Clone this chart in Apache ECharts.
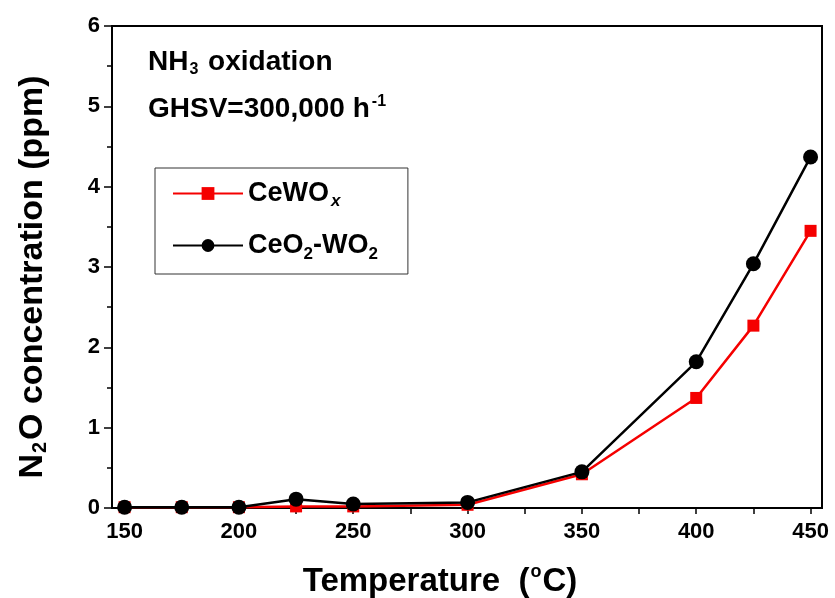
<!DOCTYPE html>
<html>
<head>
<meta charset="utf-8">
<script src="https://cdn.jsdelivr.net/npm/echarts@6/dist/echarts.min.js"></script>
<style>
  html, body { margin: 0; padding: 0; background: #fff; }
  #chart { width: 835px; height: 598px; }
</style>
</head>
<body>
<div id="chart"></div>
<script>
// temperatures (°C)
const temperatures = [150, 175, 200, 225, 250, 300, 350, 400, 425, 450];
// N2O concentration (ppm)
const ceWOx = [0.01, 0.01, 0.01, 0.02, 0.02, 0.04, 0.42, 1.37, 2.27, 3.45];
const ceO2WO2 = [0.01, 0.01, 0.01, 0.11, 0.05, 0.07, 0.45, 1.82, 3.04, 4.37];
const xLabels = [150, 200, 250, 300, 350, 400, 450];
const xTicks = [150, 175, 200, 225, 250, 275, 300, 325, 350, 375, 400, 425, 450];

const font = "Liberation Sans, Arial, sans-serif";
const red = "#f50000";

const chart = echarts.init(document.getElementById("chart"));

const option = {
  animation: false,
  backgroundColor: "#fff",
  grid: {
    left: 112, right: 13, top: 26, bottom: 90,
    containLabel: false,
    outerBoundsMode: "none",
    show: true, borderColor: "#000", borderWidth: 2
  },
  legend: {
    left: 155, top: 168,
    orient: "vertical",
    padding: [9, 30, 11, 17],
    itemGap: 18,
    itemWidth: 70, itemHeight: 16,
    borderColor: "#333", borderWidth: 1,
    data: ["CeWOx", "CeO2-WO2"],
    formatter: function (name) {
      if (name === "CeWOx") return "{m|CeWO}{si|x}";
      return "{m|CeO}{s|2}{m|-WO}{s|2}";
    },
    textStyle: {
      fontFamily: font,
      rich: {
        m: { fontSize: 27, fontWeight: "bold", color: "#000", fontFamily: font, lineHeight: 32 },
        s: { fontSize: 17, fontWeight: "bold", color: "#000", fontFamily: font, padding: [18, 0, 0, 0], lineHeight: 32 },
        si: { fontSize: 17, fontWeight: "bold", fontStyle: "italic", color: "#000", fontFamily: font, padding: [16, 0, 0, 2], lineHeight: 32 }
      }
    }
  },
  graphic: [
    {
      type: "text", left: 148, top: 46,
      style: {
        text: "{m|NH}{s|3}{m| oxidation}",
        rich: {
          m: { fontSize: 28, fontWeight: "bold", fill: "#000", fontFamily: font, lineHeight: 32 },
          s: { fontSize: 16, fontWeight: "bold", fill: "#000", fontFamily: font, padding: [16, 2, 0, 1], lineHeight: 32 }
        }
      }
    },
    {
      type: "text", left: 148, top: 94,
      style: {
        text: "{m|GHSV=300,000 h}{s|-1}",
        rich: {
          m: { fontSize: 28, fontWeight: "bold", fill: "#000", fontFamily: font, lineHeight: 32 },
          s: { fontSize: 16, fontWeight: "bold", fill: "#000", fontFamily: font, padding: [0, 0, 14, 2], lineHeight: 32 }
        }
      }
    }
  ],
  xAxis: [
    {
      type: "value",
      min: 144.5, max: 455,
      name: "{m|Temperature  (}{s|o}{m|C)}",
      nameLocation: "middle",
      nameGap: 55,
      nameTextStyle: {
        padding: [0, 54, 0, 0],
        rich: {
          m: { fontSize: 33, fontWeight: "bold", color: "#000", fontFamily: font, lineHeight: 38 },
          s: { fontSize: 18, fontWeight: "bold", color: "#000", fontFamily: font, padding: [0, 1, 20, 1], lineHeight: 38 }
        }
      },
      axisLine: { show: true, lineStyle: { color: "#000", width: 2 } },
      axisTick: { show: true, length: 6, lineStyle: { color: "#000", width: 1.5 }, customValues: xTicks },
      axisLabel: {
        customValues: xLabels,
        fontSize: 22, fontWeight: "bold", color: "#000", fontFamily: font, margin: 13
      },
      splitLine: { show: false }
    }
  ],
  yAxis: [
    {
      type: "value",
      min: 0, max: 6, interval: 1,
      name: "{m|N}{s|2}{m|O concentration (ppm)}",
      nameLocation: "middle",
      nameRotate: 90,
      nameGap: 60,
      nameTextStyle: {
        padding: [0, 20, 0, 0],
        rich: {
          m: { fontSize: 34, fontWeight: "bold", color: "#000", fontFamily: font, lineHeight: 38 },
          s: { fontSize: 20, fontWeight: "bold", color: "#000", fontFamily: font, padding: [14, 2, 0, 1], lineHeight: 38 }
        }
      },
      axisLine: { show: true, lineStyle: { color: "#000", width: 2 } },
      axisTick: { show: true, length: 8, lineStyle: { color: "#000", width: 1.5 } },
      minorTick: { show: true, splitNumber: 2, length: 5, lineStyle: { color: "#000", width: 1.5 } },
      axisLabel: { fontSize: 22, fontWeight: "bold", color: "#000", fontFamily: font, margin: 12 },
      splitLine: { show: false }
    }
  ],
  series: [
    {
      name: "CeWOx",
      type: "line",
      data: temperatures.map((t, i) => [t, ceWOx[i]]),
      symbol: "rect",
      symbolSize: 12,
      color: red,
      lineStyle: { color: red, width: 2.5 },
      itemStyle: { color: red }
    },
    {
      name: "CeO2-WO2",
      type: "line",
      data: temperatures.map((t, i) => [t, ceO2WO2[i]]),
      symbol: "circle",
      symbolSize: 15,
      color: "#000",
      lineStyle: { color: "#000", width: 2.5 },
      itemStyle: { color: "#000" }
    }
  ]
};

chart.setOption(option);
</script>
</body>
</html>
